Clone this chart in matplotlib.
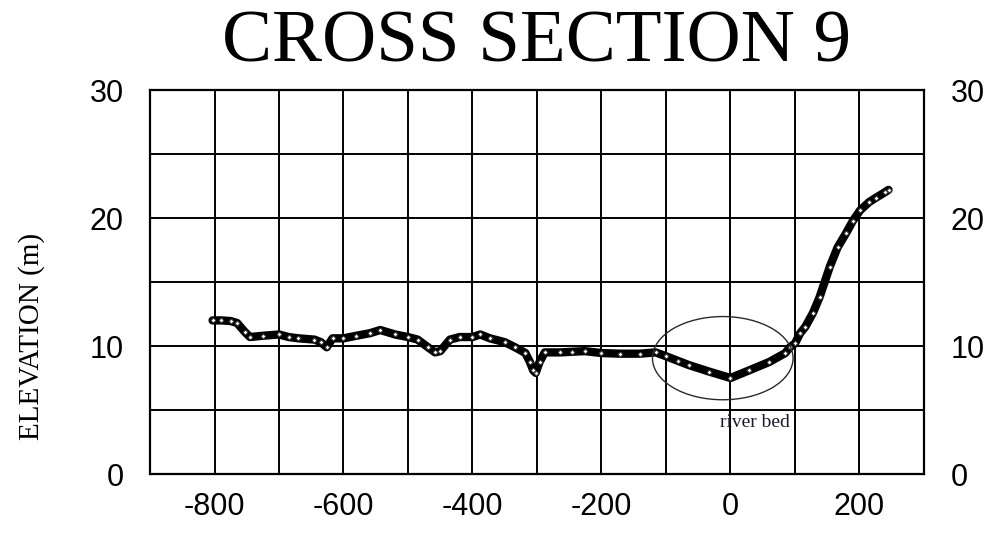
import matplotlib
matplotlib.use("Agg")
import matplotlib.pyplot as plt
from matplotlib.patches import Ellipse
from matplotlib.ticker import MultipleLocator, FixedLocator

plt.rcParams["axes.unicode_minus"] = False

# Surveyed ground profile: horizontal distance (m) and elevation (m)
distance = [-803, -790, -775, -765, -753, -745, -725, -700, -685, -670,
            -645, -635, -626, -617, -600, -580, -559, -543, -520, -500,
            -485, -469, -458, -450, -435, -420, -400, -388, -373, -350,
            -334, -318, -311, -306, -302, -296, -288, -264, -245, -226,
            -200, -171, -140, -116, -100, -82, -64, -33, 0, 29,
            60, 85, 92, 100, 108, 116, 128, 138, 154, 166,
            179, 190, 201, 215, 226, 239, 245]
elevation = [12.0, 12.0, 11.95, 11.8, 11.1, 10.7, 10.8, 10.9, 10.7, 10.6,
             10.5, 10.3, 9.9, 10.6, 10.6, 10.8, 11.0, 11.25, 10.9, 10.7,
             10.5, 9.9, 9.5, 9.6, 10.5, 10.7, 10.7, 10.9, 10.6, 10.3,
             9.9, 9.45, 8.75, 8.1, 7.9, 8.75, 9.5, 9.5, 9.55, 9.6,
             9.45, 9.4, 9.4, 9.5, 9.2, 8.85, 8.5, 8.0, 7.5, 8.1,
             8.75, 9.45, 9.9, 10.2, 11.0, 11.5, 12.6, 13.8, 16.2, 17.7,
             18.8, 19.8, 20.6, 21.25, 21.6, 22.0, 22.2]

x_labels = [-800, -600, -400, -200, 0, 200]
y_labels = [0, 10, 20, 30]

# River bed annotation: ellipse centre, size and label position
bed_center = (-12, 9.05)
bed_width = 218
bed_height = 6.5
bed_label_pos = (38, 4.0)

fig = plt.figure(figsize=(9.91, 5.36), dpi=100)
ax = fig.add_axes([150 / 991, 62 / 536, 774 / 991, 384 / 536])

ax.set_xlim(-900, 300)
ax.set_ylim(0, 30)

ax.xaxis.set_major_locator(FixedLocator(x_labels))
ax.xaxis.set_minor_locator(MultipleLocator(100))
ax.yaxis.set_major_locator(FixedLocator(y_labels))
ax.yaxis.set_minor_locator(MultipleLocator(5))

ax.grid(True, which="both", color="black", linewidth=1.4)
ax.set_axisbelow(True)
for s in ax.spines.values():
    s.set_linewidth(1.6)
    s.set_color("black")

ax.tick_params(which="both", length=0)
ax.tick_params(axis="x", labelsize=22, pad=13)
ax.tick_params(axis="y", labelsize=22, left=True, right=True,
               labelleft=True, labelright=True)
ax.tick_params(axis="y", which="major", pad=19)
for t in ax.yaxis.get_major_ticks():
    t.label1.set_family("Liberation Sans")
    t.label2.set_family("Liberation Sans")
for t in ax.xaxis.get_major_ticks():
    t.label1.set_family("Liberation Sans")

# Ground profile drawn as a dense chain of survey points
ax.plot(distance, elevation, color="black", linewidth=6,
        solid_joinstyle="round", solid_capstyle="round", zorder=3)
ax.plot(distance, elevation, linestyle="none", marker="D", markersize=2.4,
        markerfacecolor="white", markeredgecolor="#444444",
        markeredgewidth=0.6, zorder=4)

ax.add_patch(Ellipse(bed_center, bed_width, bed_height, fill=False,
                     edgecolor="#2a2a2a", linewidth=1.0, zorder=5))
ax.text(bed_label_pos[0], bed_label_pos[1], "river bed", ha="center",
        va="center", fontsize=14, family="Liberation Serif", color="#1a1a2a",
        zorder=6)

ax.set_ylabel("ELEVATION (m)", fontsize=21, family="Liberation Serif")
ax.yaxis.set_label_coords(-0.136, 0.357)

fig.text(0.5 * (220 + 853) / 991, 1 - 44 / 536, "CROSS SECTION 9",
         ha="center", va="center", fontsize=54, family="Liberation Serif")

fig.savefig("out.png", dpi=100, facecolor="white")
